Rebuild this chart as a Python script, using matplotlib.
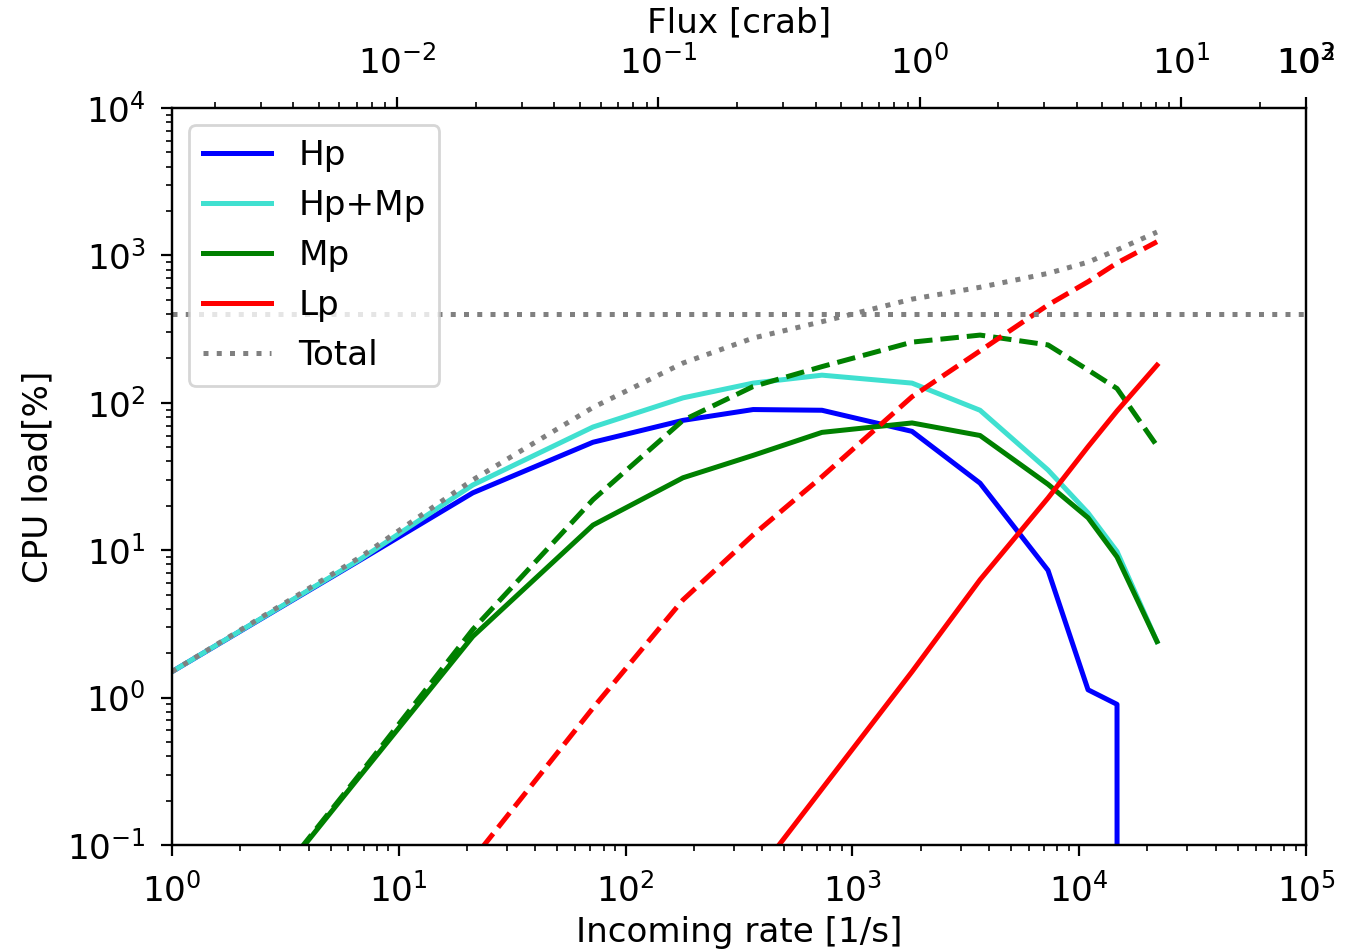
import matplotlib
matplotlib.use("Agg")
import matplotlib.pyplot as plt

plt.rcParams['font.size'] = 12.3
plt.rcParams['xtick.major.pad'] = 6.0
plt.rcParams['ytick.major.pad'] = 5.5
plt.rcParams['xtick.minor.pad'] = 6.0
plt.rcParams['ytick.minor.pad'] = 5.5
plt.rcParams['xtick.major.size'] = 4.0
plt.rcParams['ytick.major.size'] = 4.0

# Incoming rate [1/s]
rate = [1, 6.7, 21.2, 71.8, 179, 365, 734, 1832, 3654, 7286, 10940, 14680, 22030]
# CPU load [%]
hp = [1.5, 8.5, 24.5, 54, 76, 90, 89, 64, 28.5, 7.3, 1.13, 0.9, 0]
hp_mp = [1.5, 8.6, 27.7, 68.5, 108, 136, 154, 136, 89, 35, 17.9, 9.8, 2.4]
mp = [0.0076, 0.29, 2.6, 14.8, 31, 44, 63, 73, 60, 28, 16.6, 9.0, 2.4]
mp_dash = [0.0076, 0.30, 2.9, 22, 76, 129, 176, 258, 288, 247, 167, 125, 51]
lp = [4.4e-7, 2e-5, 2e-4, 2.3e-3, 0.0143, 0.059, 0.24, 1.5, 6.3, 22.6, 50.4, 88, 180]
lp_dash = [2e-4, 0.008, 0.08, 0.85, 4.6, 12.7, 31.5, 110, 225, 461, 663, 888, 1238]
total = [1.5, 8.9, 30, 93, 186, 275, 355, 505, 608, 755, 900, 1090, 1440]
cpu_limit = 400

# top axis (flux in crab)
flux_lim = (0.001374, 30.1)
flux_ticks = [1e-2, 1e-1, 1e0, 1e1, 30.1]
flux_labels = ['$10^{-2}$', '$10^{-1}$', '$10^{0}$', '$10^{1}$', '$10^{2}$']
flux_extra_label = '$10^{3}$'

fig = plt.figure(figsize=(6.805, 4.76), dpi=200)
ax = fig.add_subplot(111)
fig.subplots_adjust(left=172/1361, right=1306/1361, top=1-108/952, bottom=1-845/952)

lw = 1.8
ax.plot(rate, hp, color='blue', lw=lw, label='Hp')
ax.plot(rate, hp_mp, color='turquoise', lw=lw, label='Hp+Mp')
ax.plot(rate, mp, color='green', lw=lw, label='Mp')
ax.plot(rate, mp_dash, color='green', lw=lw, ls='--')
ax.plot(rate, lp, color='red', lw=lw, label='Lp')
ax.plot(rate, lp_dash, color='red', lw=lw, ls='--')
ax.plot(rate, total, color='gray', lw=lw, ls=':', label='Total')
ax.axhline(cpu_limit, color='gray', lw=lw, ls=':')

ax.set_xscale('log')
ax.set_yscale('log', nonpositive='clip')
ax.set_xlim(1, 1e5)
ax.set_ylim(0.1, 1e4)
ax.set_xlabel('Incoming rate [1/s]', labelpad=2.5)
ax.set_ylabel('CPU load[%]', labelpad=4.5)
ax.legend(loc='upper left')

ax2 = ax.twiny()
ax2.set_xscale('log')
ax2.set_xlim(*flux_lim)
ax2.set_xticks(flux_ticks)
ax2.set_xticklabels(flux_labels)
ax2.set_xlim(*flux_lim)
ax2.set_xlabel('Flux [crab]', labelpad=4.5)
ax2.annotate(flux_extra_label, xy=(1.0, 1.0), xycoords='axes fraction',
             xytext=(0, 10.0), textcoords='offset points',
             ha='center', va='bottom', fontsize=12.3)

fig.savefig('out.png', dpi=200)
